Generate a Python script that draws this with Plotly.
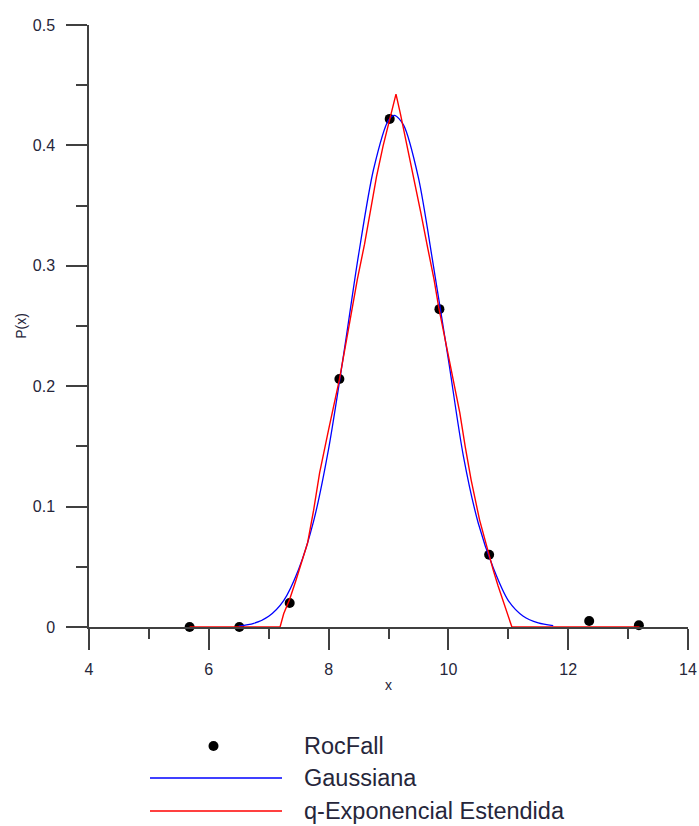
import plotly.graph_objects as go

# ---------------- data ----------------
rocfall_x = [5.68, 6.51, 7.35, 8.18, 9.02, 9.85, 10.68, 12.35, 13.18]
rocfall_y = [0.0, 0.0, 0.020, 0.206, 0.422, 0.264, 0.060, 0.005, 0.0014]

gauss_x = [6.5, 6.75, 7.0, 7.25, 7.5, 7.75, 8.0, 8.25, 8.5, 8.75, 9.0, 9.1,
           9.25, 9.5, 9.75, 10.0, 10.25, 10.5, 10.75, 11.0, 11.25, 11.5, 11.75]
gauss_y = [0.0008, 0.003, 0.009, 0.022, 0.048, 0.088, 0.148, 0.226, 0.309, 0.380,
           0.421, 0.425, 0.417, 0.373, 0.300, 0.222, 0.142, 0.086, 0.049, 0.022,
           0.009, 0.0035, 0.0012]

qexp_x = [5.68, 7.19, 7.25, 7.35, 7.45, 7.55, 7.65, 7.75, 7.85, 8.0, 8.18, 8.33,
          8.48, 8.6, 8.7, 8.8, 8.91, 9.02, 9.125, 9.2, 9.31, 9.43, 9.54, 9.65,
          9.76, 9.84, 9.97, 10.08, 10.19, 10.28, 10.38, 10.52, 10.6, 10.68,
          10.75, 10.83, 10.92, 11.0, 11.06, 13.19]
qexp_y = [0.0, 0.0, 0.011, 0.023, 0.038, 0.054, 0.070, 0.097, 0.128, 0.164,
          0.2055, 0.247, 0.2887, 0.318, 0.347, 0.374, 0.3996, 0.422, 0.4426,
          0.426, 0.3996, 0.372, 0.344, 0.316, 0.2887, 0.265, 0.233, 0.2055,
          0.178, 0.150, 0.122, 0.089, 0.074, 0.060, 0.047, 0.034, 0.020, 0.009,
          0.0, 0.0]

series_names = ["RocFall", "Gaussiana", "q-Exponencial Estendida"]
x_title = "x"
y_title = "P(x)"

# ---------------- figure ----------------
W, H = 699, 826
L, R, T, B = 89, 11, 25, 199
AX = "#404040"
TXT = "#26263a"
FONT = "Liberation Sans, Arial, sans-serif"

fig = go.Figure()
fig.add_trace(go.Scatter(x=rocfall_x, y=rocfall_y, mode="markers", name=series_names[0],
                         marker=dict(color="black", size=10), cliponaxis=False,
                         showlegend=False))
fig.add_trace(go.Scatter(x=gauss_x, y=gauss_y, mode="lines", name=series_names[1],
                         line=dict(color="#0000ff", width=1.3, shape="spline", smoothing=0.8),
                         cliponaxis=False, showlegend=False))
fig.add_trace(go.Scatter(x=qexp_x, y=qexp_y, mode="lines", name=series_names[2],
                         line=dict(color="#ff0000", width=1.4),
                         cliponaxis=False, showlegend=False))

pw, ph = W - L - R, H - T - B


def px2paper(px, py):
    return (px - L) / pw, (H - B - py) / ph


# manual legend below the plot (as in the reference)
rows_y = [746, 778, 811]
for i, name in enumerate(series_names):
    _, yy = px2paper(0, rows_y[i])
    tx, _ = px2paper(302, 0)
    fig.add_annotation(x=tx, y=yy, xref="paper", yref="paper", text=name,
                       showarrow=False, xanchor="left", yanchor="middle",
                       font=dict(family=FONT, size=23.5, color=TXT))
    if i == 0:
        x0, y0 = px2paper(208.5, rows_y[i] + 5)
        x1, y1 = px2paper(218.5, rows_y[i] - 5)
        fig.add_shape(type="circle", xref="paper", yref="paper", x0=x0, y0=y0, x1=x1, y1=y1,
                      fillcolor="black", line=dict(color="black", width=0))
    else:
        x0, yy0 = px2paper(150, rows_y[i])
        x1, _ = px2paper(282, rows_y[i])
        fig.add_shape(type="line", xref="paper", yref="paper", x0=x0, y0=yy0, x1=x1, y1=yy0,
                      line=dict(color=["#0000ff", "#ff0000"][i - 1], width=1.6))

axis_common = dict(showgrid=False, zeroline=False, showline=True, linecolor=AX, linewidth=1.5,
                   ticks="outside", ticklen=21, tickwidth=1.5, tickcolor=AX,
                   tickfont=dict(family=FONT, size=16, color=TXT))

fig.update_xaxes(range=[4, 14], tick0=4, dtick=2, ticklabelstandoff=6,
                 minor=dict(dtick=1, tick0=4, ticks="outside", ticklen=10, tickwidth=1.5,
                            tickcolor=AX, showgrid=False),
                 title=dict(text=x_title, font=dict(family=FONT, size=14, color=TXT), standoff=3),
                 **axis_common)
fig.update_yaxes(range=[0, 0.5], tick0=0, dtick=0.1, ticklabelstandoff=8,
                 minor=dict(dtick=0.05, tick0=0, ticks="outside", ticklen=11, tickwidth=1.5,
                            tickcolor=AX, showgrid=False),
                 title=dict(text=y_title, font=dict(family=FONT, size=14, color=TXT), standoff=3),
                 **axis_common)

fig.update_layout(width=W, height=H, margin=dict(l=L, r=R, t=T, b=B, autoexpand=False),
                  paper_bgcolor="white", plot_bgcolor="white", showlegend=False,
                  font=dict(family=FONT, color=TXT))

fig.write_html("out.html", config={"displayModeBar": False},
               post_script="document.body.style.margin='0';")
